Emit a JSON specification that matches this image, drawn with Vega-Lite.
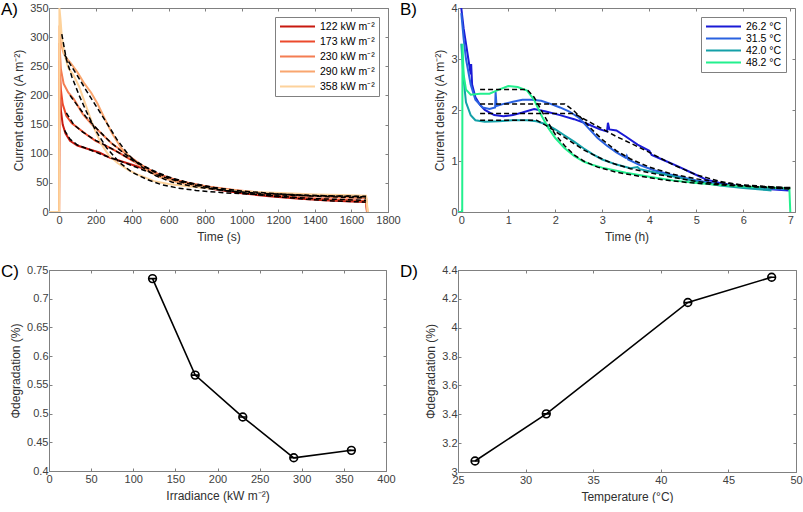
{
  "$schema": "https://vega.github.io/schema/vega-lite/v6.json",
  "padding": {"left": 0, "top": 0, "right": 0, "bottom": 0},
  "background": "white",
  "config": {
    "font": "Liberation Sans",
    "view": {"stroke": "#808080", "strokeWidth": 1},
    "axis": {
      "grid": false,
      "domainColor": "#808080",
      "tickColor": "#808080",
      "labelColor": "#404040",
      "titleColor": "#303030",
      "labelFont": "Liberation Sans",
      "titleFont": "Liberation Sans",
      "labelFontSize": 11,
      "titleFontSize": 12,
      "titleFontWeight": "normal",
      "tickSize": -3,
      "labelPadding": 4,
      "labelFlush": false,
      "labelOverlap": false
    },
    "axisX": {"labelPadding": 5.5, "titlePadding": 6},
    "title": {
      "font": "Liberation Sans",
      "fontSize": 17,
      "fontWeight": "normal",
      "color": "#000000",
      "anchor": "start",
      "frame": "group",
      "offset": -17
    },
    "legend": {
      "orient": "top-right",
      "offset": 9,
      "strokeColor": "#808080",
      "fillColor": "white",
      "padding": 4,
      "symbolType": "stroke",
      "symbolSize": 1225,
      "symbolStrokeWidth": 2,
      "labelFont": "Liberation Sans",
      "labelFontSize": 10.5,
      "labelColor": "#000000",
      "clipHeight": 11
    }
  },
  "datasets": {
    "A": [
      {"s":"122","t":0,"v":0},{"s":"122","t":2,"v":230},{"s":"122","t":10,"v":175},{"s":"122","t":20,"v":150},{"s":"122","t":35,"v":135},{"s":"122","t":60,"v":122},{"s":"122","t":100,"v":114},{"s":"122","t":150,"v":109},{"s":"122","t":220,"v":102},{"s":"122","t":280,"v":93},{"s":"122","t":370,"v":84},{"s":"122","t":450,"v":76},{"s":"122","t":550,"v":63},{"s":"122","t":650,"v":53},{"s":"122","t":750,"v":45},{"s":"122","t":850,"v":39},{"s":"122","t":1000,"v":32},{"s":"122","t":1150,"v":27},{"s":"122","t":1300,"v":23},{"s":"122","t":1450,"v":20},{"s":"122","t":1600,"v":18},{"s":"122","t":1680,"v":17},{"s":"122","t":1685,"v":0},
      {"s":"173","t":0,"v":0},{"s":"173","t":2,"v":260},{"s":"173","t":10,"v":210},{"s":"173","t":20,"v":185},{"s":"173","t":40,"v":165},{"s":"173","t":70,"v":152},{"s":"173","t":100,"v":145},{"s":"173","t":150,"v":133},{"s":"173","t":200,"v":122},{"s":"173","t":260,"v":113},{"s":"173","t":320,"v":103},{"s":"173","t":380,"v":92},{"s":"173","t":450,"v":79},{"s":"173","t":550,"v":64},{"s":"173","t":650,"v":54},{"s":"173","t":750,"v":47},{"s":"173","t":850,"v":41},{"s":"173","t":1000,"v":34},{"s":"173","t":1150,"v":29},{"s":"173","t":1300,"v":25},{"s":"173","t":1450,"v":22},{"s":"173","t":1600,"v":20},{"s":"173","t":1680,"v":19},{"s":"173","t":1686,"v":0},
      {"s":"230","t":0,"v":0},{"s":"230","t":2,"v":290},{"s":"230","t":10,"v":245},{"s":"230","t":25,"v":220},{"s":"230","t":50,"v":205},{"s":"230","t":80,"v":194},{"s":"230","t":130,"v":168},{"s":"230","t":180,"v":150},{"s":"230","t":230,"v":135},{"s":"230","t":290,"v":117},{"s":"230","t":340,"v":106},{"s":"230","t":400,"v":92},{"s":"230","t":460,"v":79},{"s":"230","t":530,"v":66},{"s":"230","t":600,"v":58},{"s":"230","t":700,"v":50},{"s":"230","t":800,"v":44},{"s":"230","t":950,"v":38},{"s":"230","t":1100,"v":33},{"s":"230","t":1250,"v":29},{"s":"230","t":1400,"v":27},{"s":"230","t":1550,"v":25},{"s":"230","t":1680,"v":24},{"s":"230","t":1687,"v":0},
      {"s":"290","t":0,"v":0},{"s":"290","t":2,"v":320},{"s":"290","t":10,"v":290},{"s":"290","t":25,"v":272},{"s":"290","t":45,"v":262},{"s":"290","t":65,"v":255},{"s":"290","t":100,"v":240},{"s":"290","t":135,"v":222},{"s":"290","t":175,"v":205},{"s":"290","t":210,"v":186},{"s":"290","t":250,"v":160},{"s":"290","t":290,"v":135},{"s":"290","t":340,"v":110},{"s":"290","t":400,"v":90},{"s":"290","t":470,"v":73},{"s":"290","t":550,"v":60},{"s":"290","t":650,"v":51},{"s":"290","t":750,"v":45},{"s":"290","t":900,"v":39},{"s":"290","t":1050,"v":34},{"s":"290","t":1200,"v":31},{"s":"290","t":1400,"v":28},{"s":"290","t":1550,"v":27},{"s":"290","t":1680,"v":26},{"s":"290","t":1688,"v":0},
      {"s":"358","t":-55,"v":0},{"s":"358","t":1,"v":0},{"s":"358","t":2,"v":350},{"s":"358","t":8,"v":330},{"s":"358","t":15,"v":300},{"s":"358","t":30,"v":270},{"s":"358","t":50,"v":248},{"s":"358","t":80,"v":234},{"s":"358","t":110,"v":215},{"s":"358","t":150,"v":180},{"s":"358","t":190,"v":145},{"s":"358","t":230,"v":117},{"s":"358","t":270,"v":98},{"s":"358","t":320,"v":84},{"s":"358","t":380,"v":72},{"s":"358","t":440,"v":63},{"s":"358","t":520,"v":53},{"s":"358","t":600,"v":48},{"s":"358","t":700,"v":44},{"s":"358","t":800,"v":41},{"s":"358","t":950,"v":37},{"s":"358","t":1100,"v":34},{"s":"358","t":1250,"v":32},{"s":"358","t":1400,"v":30},{"s":"358","t":1550,"v":29},{"s":"358","t":1680,"v":28},{"s":"358","t":1690,"v":0}
    ],
    "Afit": [
      {"s":"122","t":30,"v":140},{"s":"122","t":60,"v":125},{"s":"122","t":100,"v":115},{"s":"122","t":160,"v":108},{"s":"122","t":230,"v":99},{"s":"122","t":300,"v":91},{"s":"122","t":380,"v":82},{"s":"122","t":460,"v":72},{"s":"122","t":560,"v":61},{"s":"122","t":660,"v":52},{"s":"122","t":760,"v":45},{"s":"122","t":900,"v":37},{"s":"122","t":1050,"v":31},{"s":"122","t":1200,"v":26},{"s":"122","t":1350,"v":22},{"s":"122","t":1500,"v":19},{"s":"122","t":1680,"v":17},
      {"s":"173","t":40,"v":170},{"s":"173","t":80,"v":150},{"s":"173","t":130,"v":137},{"s":"173","t":200,"v":123},{"s":"173","t":280,"v":110},{"s":"173","t":360,"v":96},{"s":"173","t":440,"v":82},{"s":"173","t":540,"v":66},{"s":"173","t":640,"v":55},{"s":"173","t":760,"v":46},{"s":"173","t":900,"v":38},{"s":"173","t":1050,"v":31},{"s":"173","t":1200,"v":27},{"s":"173","t":1400,"v":23},{"s":"173","t":1680,"v":20},
      {"s":"230","t":60,"v":200},{"s":"230","t":100,"v":183},{"s":"230","t":150,"v":162},{"s":"230","t":210,"v":142},{"s":"230","t":280,"v":120},{"s":"230","t":350,"v":102},{"s":"230","t":420,"v":87},{"s":"230","t":500,"v":73},{"s":"230","t":600,"v":60},{"s":"230","t":700,"v":51},{"s":"230","t":850,"v":42},{"s":"230","t":1000,"v":36},{"s":"230","t":1200,"v":31},{"s":"230","t":1400,"v":27},{"s":"230","t":1680,"v":24},
      {"s":"290","t":30,"v":270},{"s":"290","t":60,"v":254},{"s":"290","t":100,"v":234},{"s":"290","t":150,"v":208},{"s":"290","t":200,"v":183},{"s":"290","t":260,"v":153},{"s":"290","t":320,"v":123},{"s":"290","t":380,"v":98},{"s":"290","t":450,"v":78},{"s":"290","t":530,"v":62},{"s":"290","t":620,"v":51},{"s":"290","t":750,"v":43},{"s":"290","t":900,"v":37},{"s":"290","t":1100,"v":32},{"s":"290","t":1350,"v":29},{"s":"290","t":1680,"v":26},
      {"s":"358","t":15,"v":305},{"s":"358","t":40,"v":262},{"s":"358","t":70,"v":232},{"s":"358","t":110,"v":200},{"s":"358","t":150,"v":172},{"s":"358","t":200,"v":140},{"s":"358","t":260,"v":110},{"s":"358","t":330,"v":85},{"s":"358","t":400,"v":68},{"s":"358","t":480,"v":56},{"s":"358","t":560,"v":47},{"s":"358","t":650,"v":41},{"s":"358","t":750,"v":37},{"s":"358","t":900,"v":33},{"s":"358","t":1100,"v":30},{"s":"358","t":1350,"v":28},{"s":"358","t":1680,"v":27}
    ],
    "B": [
      {"s":"26.2","t":0,"v":4.0},{"s":"26.2","t":0.05,"v":3.6},{"s":"26.2","t":0.1,"v":3.3},{"s":"26.2","t":0.15,"v":3.0},{"s":"26.2","t":0.2,"v":2.7},{"s":"26.2","t":0.21,"v":2.9},{"s":"26.2","t":0.23,"v":2.5},{"s":"26.2","t":0.3,"v":2.25},{"s":"26.2","t":0.4,"v":2.1},{"s":"26.2","t":0.5,"v":2.0},{"s":"26.2","t":0.7,"v":1.9},{"s":"26.2","t":0.9,"v":1.88},{"s":"26.2","t":1.1,"v":1.9},{"s":"26.2","t":1.3,"v":1.95},{"s":"26.2","t":1.55,"v":2.02},{"s":"26.2","t":1.8,"v":1.97},{"s":"26.2","t":2.1,"v":1.9},{"s":"26.2","t":2.4,"v":1.82},{"s":"26.2","t":2.7,"v":1.72},{"s":"26.2","t":2.95,"v":1.62},{"s":"26.2","t":3.1,"v":1.58},{"s":"26.2","t":3.12,"v":1.75},{"s":"26.2","t":3.15,"v":1.62},{"s":"26.2","t":3.3,"v":1.6},{"s":"26.2","t":3.5,"v":1.48},{"s":"26.2","t":3.75,"v":1.32},{"s":"26.2","t":4.0,"v":1.2},{"s":"26.2","t":4.05,"v":1.12},{"s":"26.2","t":4.3,"v":1.02},{"s":"26.2","t":4.6,"v":0.9},{"s":"26.2","t":4.9,"v":0.77},{"s":"26.2","t":5.2,"v":0.64},{"s":"26.2","t":5.5,"v":0.57},{"s":"26.2","t":5.8,"v":0.52},{"s":"26.2","t":6.1,"v":0.48},{"s":"26.2","t":6.5,"v":0.45},{"s":"26.2","t":6.97,"v":0.42},
      {"s":"31.5","t":0,"v":3.9},{"s":"31.5","t":0.05,"v":3.4},{"s":"31.5","t":0.1,"v":3.0},{"s":"31.5","t":0.2,"v":2.5},{"s":"31.5","t":0.3,"v":2.2},{"s":"31.5","t":0.45,"v":2.05},{"s":"31.5","t":0.6,"v":2.02},{"s":"31.5","t":0.72,"v":2.05},{"s":"31.5","t":0.73,"v":2.35},{"s":"31.5","t":0.75,"v":2.08},{"s":"31.5","t":0.9,"v":2.12},{"s":"31.5","t":1.1,"v":2.16},{"s":"31.5","t":1.3,"v":2.2},{"s":"31.5","t":1.5,"v":2.2},{"s":"31.5","t":1.7,"v":2.18},{"s":"31.5","t":1.9,"v":2.12},{"s":"31.5","t":2.1,"v":2.05},{"s":"31.5","t":2.3,"v":1.97},{"s":"31.5","t":2.5,"v":1.85},{"s":"31.5","t":2.7,"v":1.65},{"s":"31.5","t":2.9,"v":1.45},{"s":"31.5","t":3.1,"v":1.3},{"s":"31.5","t":3.3,"v":1.17},{"s":"31.5","t":3.5,"v":1.06},{"s":"31.5","t":3.52,"v":1.1},{"s":"31.5","t":3.55,"v":1.03},{"s":"31.5","t":3.8,"v":0.92},{"s":"31.5","t":4.1,"v":0.82},{"s":"31.5","t":4.5,"v":0.72},{"s":"31.5","t":5.0,"v":0.62},{"s":"31.5","t":5.5,"v":0.55},{"s":"31.5","t":6.0,"v":0.5},{"s":"31.5","t":6.5,"v":0.46},{"s":"31.5","t":6.9,"v":0.44},
      {"s":"42.0","t":0,"v":3.3},{"s":"42.0","t":0.05,"v":2.6},{"s":"42.0","t":0.1,"v":2.15},{"s":"42.0","t":0.2,"v":1.9},{"s":"42.0","t":0.3,"v":1.8},{"s":"42.0","t":0.5,"v":1.77},{"s":"42.0","t":0.8,"v":1.78},{"s":"42.0","t":1.1,"v":1.8},{"s":"42.0","t":1.4,"v":1.8},{"s":"42.0","t":1.6,"v":1.78},{"s":"42.0","t":1.8,"v":1.72},{"s":"42.0","t":2.0,"v":1.62},{"s":"42.0","t":2.2,"v":1.5},{"s":"42.0","t":2.4,"v":1.38},{"s":"42.0","t":2.6,"v":1.25},{"s":"42.0","t":2.8,"v":1.13},{"s":"42.0","t":3.0,"v":1.03},{"s":"42.0","t":3.3,"v":0.93},{"s":"42.0","t":3.6,"v":0.86},{"s":"42.0","t":3.75,"v":0.88},{"s":"42.0","t":3.8,"v":0.84},{"s":"42.0","t":4.0,"v":0.8},{"s":"42.0","t":4.5,"v":0.7},{"s":"42.0","t":5.0,"v":0.6},{"s":"42.0","t":5.5,"v":0.52},{"s":"42.0","t":6.0,"v":0.47},{"s":"42.0","t":6.5,"v":0.43},{"s":"42.0","t":6.6,"v":0.42},
      {"s":"48.2","t":-0.07,"v":0},{"s":"48.2","t":0.02,"v":0},{"s":"48.2","t":0.025,"v":3.3},{"s":"48.2","t":0.05,"v":2.7},{"s":"48.2","t":0.1,"v":2.4},{"s":"48.2","t":0.2,"v":2.3},{"s":"48.2","t":0.4,"v":2.32},{"s":"48.2","t":0.6,"v":2.32},{"s":"48.2","t":0.8,"v":2.4},{"s":"48.2","t":1.0,"v":2.47},{"s":"48.2","t":1.2,"v":2.45},{"s":"48.2","t":1.4,"v":2.38},{"s":"48.2","t":1.55,"v":2.2},{"s":"48.2","t":1.7,"v":1.9},{"s":"48.2","t":1.85,"v":1.65},{"s":"48.2","t":2.0,"v":1.45},{"s":"48.2","t":2.2,"v":1.25},{"s":"48.2","t":2.4,"v":1.1},{"s":"48.2","t":2.6,"v":0.99},{"s":"48.2","t":2.8,"v":0.92},{"s":"48.2","t":3.0,"v":0.87},{"s":"48.2","t":3.5,"v":0.77},{"s":"48.2","t":4.0,"v":0.69},{"s":"48.2","t":4.5,"v":0.62},{"s":"48.2","t":5.0,"v":0.57},{"s":"48.2","t":5.5,"v":0.53},{"s":"48.2","t":6.0,"v":0.5},{"s":"48.2","t":6.5,"v":0.48},{"s":"48.2","t":6.98,"v":0.46},{"s":"48.2","t":7.0,"v":0}
    ],
    "Bfit": [
      {"s":"26.2","t":0.4,"v":1.93},{"s":"26.2","t":2.4,"v":1.93},{"s":"26.2","t":2.7,"v":1.78},{"s":"26.2","t":3.0,"v":1.63},{"s":"26.2","t":3.3,"v":1.48},{"s":"26.2","t":3.6,"v":1.35},{"s":"26.2","t":4.0,"v":1.17},{"s":"26.2","t":4.5,"v":0.93},{"s":"26.2","t":5.0,"v":0.73},{"s":"26.2","t":5.5,"v":0.6},{"s":"26.2","t":6.0,"v":0.52},{"s":"26.2","t":6.5,"v":0.48},{"s":"26.2","t":7.0,"v":0.45},
      {"s":"31.5","t":0.4,"v":2.12},{"s":"31.5","t":2.2,"v":2.12},{"s":"31.5","t":2.4,"v":1.98},{"s":"31.5","t":2.6,"v":1.8},{"s":"31.5","t":2.8,"v":1.6},{"s":"31.5","t":3.0,"v":1.42},{"s":"31.5","t":3.3,"v":1.2},{"s":"31.5","t":3.6,"v":1.04},{"s":"31.5","t":4.0,"v":0.88},{"s":"31.5","t":4.5,"v":0.74},{"s":"31.5","t":5.0,"v":0.65},{"s":"31.5","t":5.5,"v":0.58},{"s":"31.5","t":6.0,"v":0.53},{"s":"31.5","t":6.5,"v":0.5},{"s":"31.5","t":7.0,"v":0.47},
      {"s":"42.0","t":0.4,"v":1.8},{"s":"42.0","t":1.6,"v":1.8},{"s":"42.0","t":1.8,"v":1.7},{"s":"42.0","t":2.0,"v":1.58},{"s":"42.0","t":2.3,"v":1.4},{"s":"42.0","t":2.6,"v":1.22},{"s":"42.0","t":2.9,"v":1.08},{"s":"42.0","t":3.2,"v":0.96},{"s":"42.0","t":3.6,"v":0.85},{"s":"42.0","t":4.0,"v":0.77},{"s":"42.0","t":4.5,"v":0.68},{"s":"42.0","t":5.0,"v":0.6},{"s":"42.0","t":5.5,"v":0.55},{"s":"42.0","t":6.0,"v":0.51},{"s":"42.0","t":6.5,"v":0.48},{"s":"42.0","t":7.0,"v":0.46},
      {"s":"48.2","t":0.4,"v":2.4},{"s":"48.2","t":1.4,"v":2.4},{"s":"48.2","t":1.55,"v":2.25},{"s":"48.2","t":1.7,"v":2.0},{"s":"48.2","t":1.85,"v":1.75},{"s":"48.2","t":2.0,"v":1.52},{"s":"48.2","t":2.2,"v":1.3},{"s":"48.2","t":2.4,"v":1.12},{"s":"48.2","t":2.6,"v":1.0},{"s":"48.2","t":2.9,"v":0.88},{"s":"48.2","t":3.3,"v":0.78},{"s":"48.2","t":3.8,"v":0.7},{"s":"48.2","t":4.3,"v":0.63},{"s":"48.2","t":4.8,"v":0.58},{"s":"48.2","t":5.5,"v":0.53},{"s":"48.2","t":6.2,"v":0.5},{"s":"48.2","t":7.0,"v":0.48}
    ],
    "C": [
      {"x":122.9,"y":0.735},{"x":173.5,"y":0.567},{"x":230,"y":0.494},{"x":290.5,"y":0.423},{"x":358.9,"y":0.436}
    ],
    "D": [
      {"x":26.26,"y":3.076},{"x":31.53,"y":3.403},{"x":42.0,"y":4.175},{"x":48.2,"y":4.35}
    ]
  },
  "columns": 2,
  "spacing": {"row": 19, "column": -2},
  "resolve": {"scale": {"color": "independent"}},
  "concat": [
    {
      "width": 339,
      "height": 204,
      "title": {"text": "A)", "dx": -48},
      "encoding": {
        "x": {"field": "t", "type": "quantitative", "scale": {"domain": [-55, 1800], "nice": false, "zero": false}, "axis": {"title": "Time (s)", "format": "d", "labelOverlap": false, "values": [0,200,400,600,800,1000,1200,1400,1600,1800]}},
        "y": {"field": "v", "type": "quantitative", "scale": {"domain": [0, 350], "nice": false}, "axis": {"title": "Current density (A m⁻²)", "format": "d", "labelOverlap": false, "values": [0,50,100,150,200,250,300,350]}}
      },
      "resolve": {"axis": {"x": "independent", "y": "independent"}},
      "layer": [
        {
          "data": {"name": "A"},
          "mark": {"type": "line", "strokeWidth": 2, "clip": true},
          "encoding": {
            "color": {"field": "s", "type": "nominal", "scale": {"domain": ["122","173","230","290","358"], "range": ["#c8190f","#ec4a2c","#f47d52","#f9a66f","#fdd29b"]}, "legend": {"title": null, "labelExpr": "datum.label + ' kW m⁻²'", "rowPadding": 4}}
          }
        },
        {
          "data": {"name": "Afit"},
          "mark": {"type": "line", "color": "black", "strokeWidth": 1.5, "strokeDash": [5, 3], "clip": true},
          "encoding": {
            "x": {"field": "t", "type": "quantitative", "axis": {"orient": "top", "labels": false, "title": null, "domain": false, "values": [0,200,400,600,800,1000,1200,1400,1600,1800]}},
            "y": {"field": "v", "type": "quantitative", "axis": {"orient": "right", "labels": false, "title": null, "domain": false, "values": [0,50,100,150,200,250,300,350]}},
            "detail": {"field": "s", "type": "nominal"}
          }
        }
      ]
    },
    {
      "width": 337,
      "height": 204,
      "title": {"text": "B)", "dx": -58},
      "encoding": {
        "x": {"field": "t", "type": "quantitative", "scale": {"domain": [-0.07, 7.1], "nice": false, "zero": false}, "axis": {"title": "Time (h)", "format": "d", "labelOverlap": false, "values": [0,1,2,3,4,5,6,7]}},
        "y": {"field": "v", "type": "quantitative", "scale": {"domain": [0, 4], "nice": false}, "axis": {"title": "Current density (A m⁻²)", "format": "d", "labelOverlap": false, "values": [0,1,2,3,4]}}
      },
      "resolve": {"axis": {"x": "independent", "y": "independent"}},
      "layer": [
        {
          "data": {"name": "B"},
          "mark": {"type": "line", "strokeWidth": 2, "clip": true},
          "encoding": {
            "color": {"field": "s", "type": "nominal", "scale": {"domain": ["26.2","31.5","42.0","48.2"], "range": ["#1a1ad6","#2a62e0","#14a0a8","#22f08e"]}, "legend": {"title": null, "labelExpr": "datum.label + ' °C'", "rowPadding": 1, "padding": 4}}
          }
        },
        {
          "data": {"name": "Bfit"},
          "mark": {"type": "line", "color": "black", "strokeWidth": 1.5, "strokeDash": [5, 3], "clip": true},
          "encoding": {
            "x": {"field": "t", "type": "quantitative", "axis": {"orient": "top", "labels": false, "title": null, "domain": false, "values": [0,1,2,3,4,5,6,7]}},
            "y": {"field": "v", "type": "quantitative", "axis": {"orient": "right", "labels": false, "title": null, "domain": false, "values": [0,1,2,3,4]}},
            "detail": {"field": "s", "type": "nominal"}
          }
        }
      ]
    },
    {
      "width": 337,
      "height": 201,
      "title": {"text": "C)", "dx": -48},
      "data": {"name": "C"},
      "encoding": {
        "x": {"field": "x", "type": "quantitative", "scale": {"domain": [0, 400], "nice": false}, "axis": {"title": "Irradiance (kW m⁻²)", "labelOverlap": false, "values": [0,50,100,150,200,250,300,350,400]}},
        "y": {"field": "y", "type": "quantitative", "scale": {"domain": [0.4, 0.75], "nice": false, "zero": false}, "axis": {"title": "Φdegradation (%)", "format": "~g", "labelOverlap": false, "values": [0.4,0.45,0.5,0.55,0.6,0.65,0.7,0.75]}}
      },
      "resolve": {"axis": {"x": "independent", "y": "independent"}},
      "layer": [
        {"mark": {"type": "line", "color": "black", "strokeWidth": 1.6}},
        {
          "mark": {"type": "point", "shape": "M-1,0A1,1,0,1,1,1,0A1,1,0,1,1,-1,0ZM-1,0L1,0", "size": 60, "filled": false, "color": "black", "strokeWidth": 1.6, "opacity": 1},
          "encoding": {
            "x": {"field": "x", "type": "quantitative", "axis": {"orient": "top", "labels": false, "title": null, "domain": false, "values": [0,50,100,150,200,250,300,350,400]}},
            "y": {"field": "y", "type": "quantitative", "axis": {"orient": "right", "labels": false, "title": null, "domain": false, "values": [0.4,0.45,0.5,0.55,0.6,0.65,0.7,0.75]}}
          }
        }
      ]
    },
    {
      "width": 338,
      "height": 202,
      "title": {"text": "D)", "dx": -58},
      "data": {"name": "D"},
      "encoding": {
        "x": {"field": "x", "type": "quantitative", "scale": {"domain": [25, 50], "nice": false, "zero": false}, "axis": {"title": "Temperature (°C)", "labelOverlap": false, "values": [25,30,35,40,45,50]}},
        "y": {"field": "y", "type": "quantitative", "scale": {"domain": [3, 4.4], "nice": false, "zero": false}, "axis": {"title": "Φdegradation (%)", "format": "~g", "labelOverlap": false, "values": [3,3.2,3.4,3.6,3.8,4,4.2,4.4]}}
      },
      "resolve": {"axis": {"x": "independent", "y": "independent"}},
      "layer": [
        {"mark": {"type": "line", "color": "black", "strokeWidth": 1.6}},
        {
          "mark": {"type": "point", "shape": "M-1,0A1,1,0,1,1,1,0A1,1,0,1,1,-1,0ZM-1,0L1,0", "size": 60, "filled": false, "color": "black", "strokeWidth": 1.6, "opacity": 1},
          "encoding": {
            "x": {"field": "x", "type": "quantitative", "axis": {"orient": "top", "labels": false, "title": null, "domain": false, "values": [25,30,35,40,45,50]}},
            "y": {"field": "y", "type": "quantitative", "axis": {"orient": "right", "labels": false, "title": null, "domain": false, "values": [3,3.2,3.4,3.6,3.8,4,4.2,4.4]}}
          }
        }
      ]
    }
  ]
}
